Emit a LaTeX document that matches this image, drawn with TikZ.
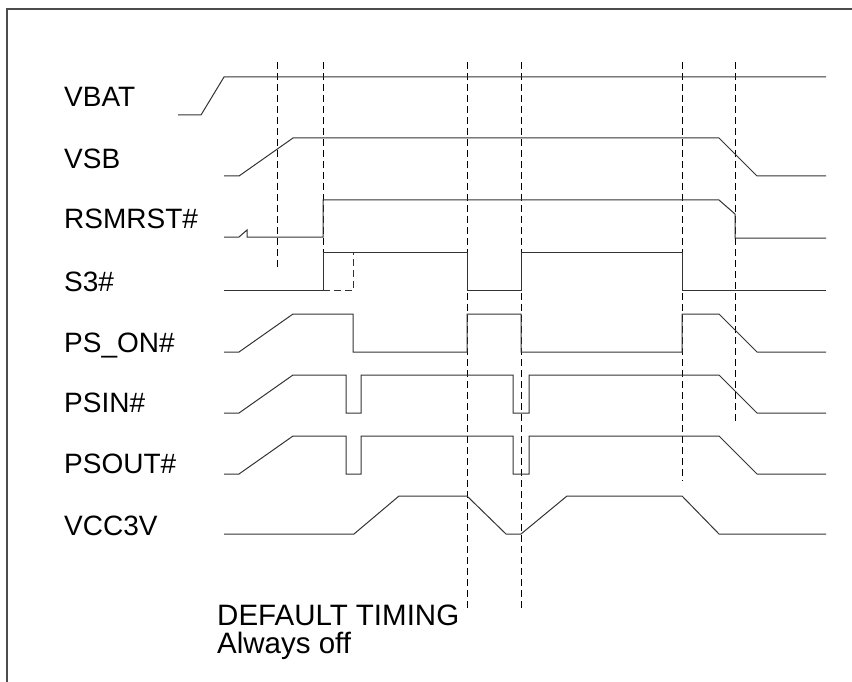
\documentclass[tikz,border=0pt]{standalone}
\usepackage{fontspec}
\setmainfont{Liberation Sans}
\usepackage{tikz}
\usetikzlibrary{positioning,calc}

\begin{document}
\begin{tikzpicture}[x=1pt,y=-1pt,
    wave/.style={black!80,line width=1pt,line join=miter},
    marker/.style={black,line width=0.9pt,dash pattern=on 7pt off 4pt},
    sig/.style={anchor=base west,inner sep=0pt,font=\fontsize{28}{32}\selectfont},
    remark/.style={anchor=base west,inner sep=0pt,font=\fontsize{29.5}{33}\selectfont}]
                \useasboundingbox (0,0) rectangle (852,682);
                \draw[black!70,line width=1.3pt] (7,682) -- (7,9) -- (852,9);
                % signal names
                \foreach \txt/\y [count=\i] in {VBAT/107,VSB/168,RSMRST\#/229,S3\#/291,PS\_ON\#/352,PSIN\#/412,PSOUT\#/473,VCC3V/535} \node[sig] (sig\i) at (64,\y) {\txt};
                % timing markers
                \foreach \x/\yb in {277/270,323/290,467/608,521/608,682/481,735/422} \draw[marker] (\x,62) -- (\x,\yb);
                % waveforms
                \draw[wave] (178,115) -- (201,115) -- (224,77) -- (826,77);
                \draw[wave] (224,176) -- (239,176) -- (293,138) -- (719,138) -- (757,176) -- (826,176);
                \draw[wave] (224,237) -- (239,237) -- (247,230) -- (247,237) -- (323,237) -- (323,200) -- (719,200) -- (735,214) -- (735,238) -- (826,238);
                \draw[wave] (224,290.5) -- (323,290.5) -- (323,252) -- (467,252) -- (467,290.5) -- (521,290.5) -- (521,252) -- (682,252) -- (682,290.5) -- (826,290.5);
                \draw[wave,dash pattern=on 7pt off 4pt] (323,290.5) -- (353,290.5) -- (353,252);
                \draw[wave] (224,352) -- (239,352) -- (293,314) -- (353,314) -- (353,352) -- (467,352) -- (467,314) -- (521,314) -- (521,352) -- (682,352) -- (682,314) -- (719,314) -- (757,352) -- (826,352);
                \foreach \hi/\lo in {375/413,436/474} \draw[wave] (224,\lo) -- (239,\lo) -- (293,\hi) -- (346,\hi) -- (346,\lo) -- (361,\lo) -- (361,\hi) -- (513,\hi) -- (513,\lo) -- (529,\lo) -- (529,\hi) -- (719,\hi) -- (757,\lo) -- (826,\lo);
                \draw[wave] (224,534) -- (354,534) -- (399,496) -- (467,496) -- (506,534) -- (521,534) -- (567,496) -- (682,496) -- (719,534) -- (826,534);
                % note
                \node[remark] (note) at (217,625) {DEFAULT TIMING};
                \node[remark] (noteoff) at (217,653) {Always off};
            \end{tikzpicture}
\end{document}
